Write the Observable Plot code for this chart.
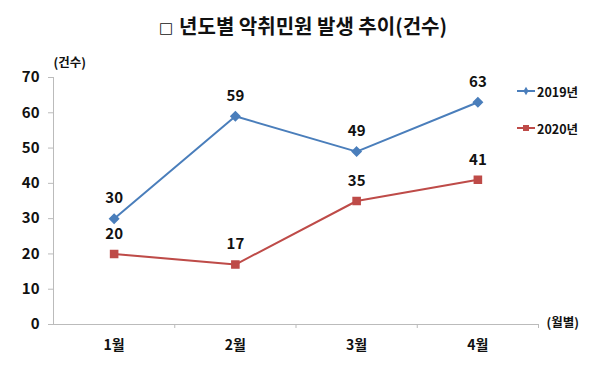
<!DOCTYPE html>
<html><head><meta charset="utf-8">
<script src="https://cdn.jsdelivr.net/npm/d3@7"></script>
<script src="https://cdn.jsdelivr.net/npm/@observablehq/plot@0.6"></script>
<style>
body{margin:0;background:#fff;font-family:"Noto Sans CJK KR","Noto Sans",sans-serif;}
#wrap{position:relative;width:600px;height:367px;}
#title{height:45px;line-height:52px;text-align:center;font-size:20px;font-weight:bold;color:#111;padding-left:6px;box-sizing:border-box;}
#title .sq{font-family:"DejaVu Sans";font-size:15px;font-weight:bold;margin-right:6px;vertical-align:1px;}
#legend{position:absolute;left:516px;top:81px;font-size:12.5px;font-weight:bold;color:#111;}
.li{display:flex;align-items:center;height:20px;margin-bottom:17px;}
</style></head>
<body><div id="wrap"><div id="title"><span class="sq">□</span>년도별 악취민원 발생 추이(건수)</div><div id="chart"></div><div id="legend"></div></div>
<script>
const months = ["1월","2월","3월","4월"];
const series = ["2019년","2020년"];
const values2019 = [30,59,49,63];
const values2020 = [20,17,35,41];
const yTicks = [0,10,20,30,40,50,60,70];
const colors = ["#4A7EBB","#BE4B48"];
const symbols = ["diamond2","square"];

const data = [];
months.forEach((m,i)=>{
  data.push({i:i+1, month:m, series:series[0], value:values2019[i]});
  data.push({i:i+1, month:m, series:series[1], value:values2020[i]});
});
const bounds = months.map((m,i)=>i+1.5);
const font = "Noto Sans CJK KR";

const chart = Plot.plot({
  width:600, height:322,
  marginLeft:53, marginRight:62, marginTop:32, marginBottom:43,
  style:{fontFamily:font, background:"#fff"},
  x:{domain:[0.5, months.length+0.5]},
  y:{domain:[0,70]},
  color:{domain:series, range:colors},
  symbol:{domain:series, range:symbols},
  marks:[
    Plot.ruleX([0.5],{y1:0,y2:70,stroke:"#bbb"}),
    Plot.ruleY([0],{stroke:"#bbb"}),
    Plot.axisY({ticks:yTicks, tickSize:5, tickPadding:9, stroke:"#bbb", fontSize:15, fontWeight:"bold", fill:"#111", label:null}),
    Plot.axisX({ticks:bounds, tickFormat:()=> "", tickSize:4, stroke:"#bbb", label:null}),
    Plot.text(months,{x:(d,i)=>i+1, frameAnchor:"bottom", dy:25, fontSize:14, fontWeight:"bold", fill:"#111"}),
    Plot.line(data,{x:"i", y:"value", z:"series", stroke:"series", strokeWidth:2}),
    Plot.dot(data,{x:"i", y:"value", symbol:"series", fill:"series", stroke:"series", r:4}),
    Plot.text(data,{x:"i", y:"value", text:"value", dy:-20, fontSize:15, fontWeight:"bold", fill:"#111"}),
    Plot.text(["(건수)"],{frameAnchor:"top-left", dy:-19, dx:0, fontSize:12.5, fontWeight:"bold", fill:"#111"}),
    Plot.text(["(월별)"],{frameAnchor:"bottom-right", dx:8, dy:2, textAnchor:"start", fontSize:12.5, fontWeight:"bold", fill:"#111"})
  ]
});
document.getElementById("chart").appendChild(chart);

const leg = d3.select("#legend");
series.forEach((s,k)=>{
  const row = leg.append("div").attr("class","li");
  const sv = row.append("svg").attr("width",20).attr("height",12);
  sv.append("line").attr("x1",1).attr("x2",19).attr("y1",6).attr("y2",6).attr("stroke",colors[k]).attr("stroke-width",2);
  sv.append("path").attr("d", d3.symbol(k===0? d3.symbolDiamond : d3.symbolSquare, k===0?22:36)()).attr("transform","translate(10,6)").attr("fill",colors[k]);
  row.append("span").text(s).style("margin-left","1px");
});
</script></body></html>
